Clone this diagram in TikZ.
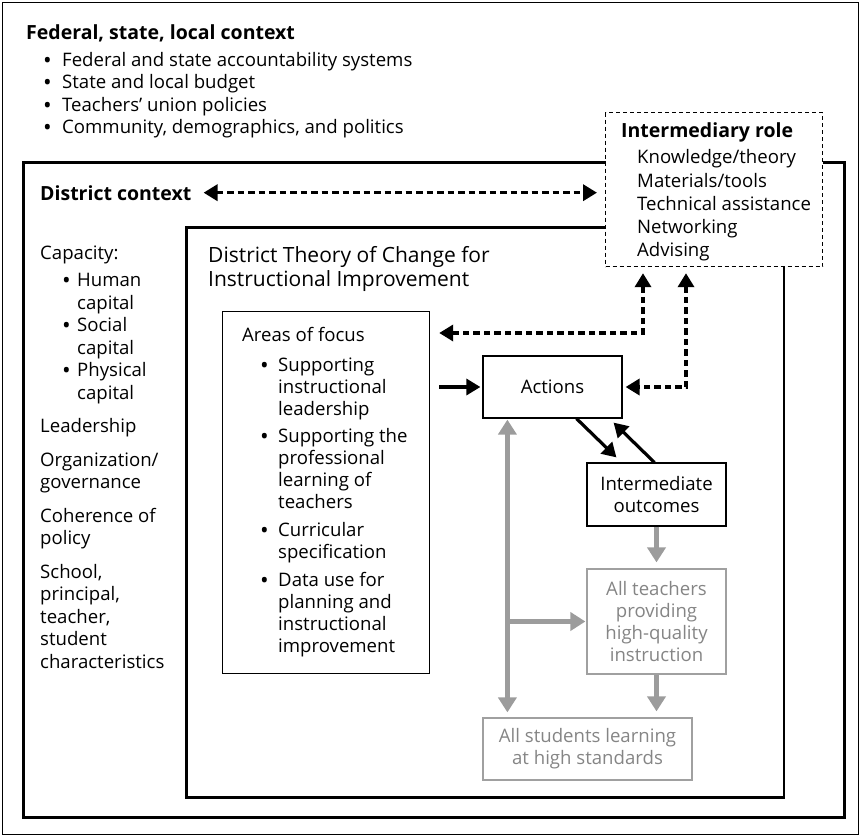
\documentclass[tikz,border=0pt]{standalone}
\usepackage{fontspec}
\setmainfont{Open Sans}
\usetikzlibrary{arrows.meta,calc}
\newcommand\mybul[1]{\makebox[#1][l]{\raisebox{-1.8pt}{\fontsize{23}{23}\selectfont\textbullet}}}
\begin{document}
\begin{tikzpicture}[x=1pt,y=-1pt,
  bodyA/.style={font=\fontsize{18.6}{22.5}\selectfont, inner sep=0pt, align=left, anchor=north west},
  bodyB/.style={font=\fontsize{18.6}{22}\selectfont, inner sep=0pt, align=left, anchor=north west},
  bodyC/.style={font=\fontsize{18.6}{23.25}\selectfont, inner sep=0pt, align=left, anchor=north west},
  head/.style={font=\fontsize{19.5}{22}\selectfont\bfseries, inner sep=0pt, anchor=base west},
  ttl/.style={font=\fontsize{21}{24}\selectfont, inner sep=0pt, align=left, anchor=north west},
  thinframe/.style={draw, line width=1.5pt, inner sep=0pt, anchor=north west},
  thickframe/.style={draw, line width=2.5pt, inner sep=0pt, anchor=north west},
  blkbox/.style={draw, line width=1.2pt, inner sep=0pt, align=center, font=\fontsize{18.6}{22}\selectfont},
  graybox/.style={draw=graybox, text=graytext, line width=1.2pt, inner sep=0pt, align=center, font=\fontsize{18.6}{22}\selectfont},
  dasharrow/.style={line width=3.5pt, dash pattern=on 6.5pt off 4pt, {Triangle[length=14pt,width=16pt]}-{Triangle[length=14pt,width=16pt]}},
  blkarrow/.style={line width=3.2pt, -{Triangle[length=14pt,width=16pt]}},
  grayarrow/.style={line width=4.6pt, draw=grayline, -{Triangle[length=15pt,width=18pt]}},
]
\definecolor{graybox}{HTML}{A0A0A0}
\definecolor{graytext}{HTML}{858585}
\definecolor{grayline}{HTML}{9C9C9C}
\useasboundingbox (0,0) rectangle (859,835);
% frames
\node[thinframe, minimum width=856pt, minimum height=832pt] (outer) at (1.5,1.5) {};
\node[thickframe, minimum width=821pt, minimum height=655pt] (district) at (22,161) {};
\node[thickframe, minimum width=597.5pt, minimum height=570pt] (theory) at (185,226) {};
\node[draw, line width=1.2pt, inner sep=0pt, anchor=north west, minimum width=207pt, minimum height=362pt] (areas) at (222,311) {};
% federal
\node[head] (fedt) at (26,39) {Federal, state, local context};
\node[bodyA] (fedl) at (43,50.4) {\strut\mybul{19pt}Federal and state accountability systems\\
\mybul{19pt}State and local budget\\
\mybul{19pt}Teachers’ union policies\\
\mybul{19pt}Community, demographics, and politics};
% district context
\node[head] (dc) at (40,200) {District context};
\node[bodyA] (cap) at (40,243.9) {\strut Capacity:\\[4.5pt]
\hspace*{22pt}\mybul{15pt}Human\\
\hspace*{37pt}capital\\
\hspace*{22pt}\mybul{15pt}Social\\
\hspace*{37pt}capital\\
\hspace*{22pt}\mybul{15pt}Physical\\
\hspace*{37pt}capital\\[11pt]
Leadership\\[11pt]
Organization/\\
governance\\[11pt]
Coherence of\\
policy\\[11pt]
School,\\
principal,\\
teacher,\\
student\\
characteristics};
% theory title
\node[ttl] (tt) at (208,245.8) {\strut District Theory of Change for\\Instructional Improvement};
% areas text
\node[bodyB] (areast) at (242,326.3) {\strut Areas of focus\\[8pt]
\hspace*{18pt}\mybul{18pt}Supporting\\
\hspace*{36pt}instructional\\
\hspace*{36pt}leadership\\[5pt]
\hspace*{18pt}\mybul{18pt}Supporting the\\
\hspace*{36pt}professional\\
\hspace*{36pt}learning of\\
\hspace*{36pt}teachers\\[6pt]
\hspace*{18pt}\mybul{18pt}Curricular\\
\hspace*{36pt}specification\\[6pt]
\hspace*{18pt}\mybul{18pt}Data use for\\
\hspace*{36pt}planning and\\
\hspace*{36pt}instructional\\
\hspace*{36pt}improvement};
% process boxes
\node[blkbox, minimum width=139pt, minimum height=62pt] (act) at (552.5,387) {Actions};
\node[blkbox, minimum width=139pt, minimum height=63pt] (out) at (656.5,494.5) {Intermediate\\outcomes};
\node[graybox, minimum width=139pt, minimum height=105pt] (teach) at (656.5,621.5) {All teachers\\providing\\high-quality\\instruction};
\node[graybox, minimum width=209pt, minimum height=62pt] (stud) at (587.5,749) {All students learning\\at high standards};
% intermediary
\node[draw, fill=white, dash pattern=on 4pt off 3pt, line width=1.2pt, inner sep=0pt, anchor=north west, minimum width=217pt, minimum height=154pt] (inter) at (605,112) {};
\node[head] (intt) at (621,137) {Intermediary role};
\node[bodyC] (intl) at (637,147.4) {\strut Knowledge/theory\\Materials/tools\\Technical assistance\\Networking\\Advising};
% arrows
\draw[dasharrow] ([xshift=12pt]dc.east) -- ([xshift=-8pt]inter.west |- dc.east);
\draw[dasharrow] ([shift={(38,6)}]inter.south west) |- ([shift={(9,22)}]areas.north east);
\draw[dasharrow] ([shift={(81,6)}]inter.south west) |- ([xshift=3pt]act.east);
\draw[blkarrow, shorten <=9pt, shorten >=2pt] (areas.east |- act.west) -- (act.west);
\draw[blkarrow] ([xshift=24pt]act.south) -- ([shift={(30,-5)}]out.north west);
\draw[blkarrow] ([xshift=68pt]out.north west) -- ([shift={(-9,4)}]act.south east);
\draw[grayarrow, {Triangle[length=15pt,width=18pt]}-{Triangle[length=15pt,width=18pt]}] ([shift={(25,1)}]act.south west) -- ([shift={(25,-5)}]stud.north west);
\coordinate (br) at ([xshift=25pt]act.south west |- teach.west);
\draw[grayarrow, shorten >=1pt] (br) -- (teach.west);
\draw[grayarrow, shorten >=6pt] (out.south) -- (teach.north);
\draw[grayarrow, shorten >=6pt] (teach.south) -- (teach.south |- stud.north);
\end{tikzpicture}
\end{document}
